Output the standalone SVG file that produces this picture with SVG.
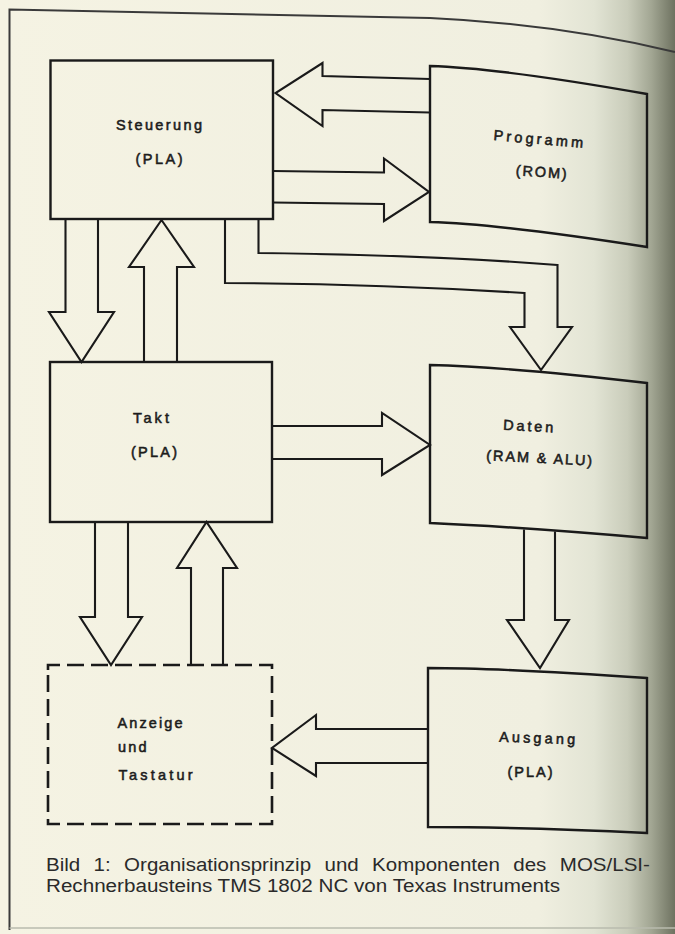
<svg xmlns="http://www.w3.org/2000/svg" width="675" height="934" viewBox="0 0 675 934">
<defs>
<linearGradient id="paper" x1="0" y1="0" x2="675" y2="0" gradientUnits="userSpaceOnUse">
<stop offset="0" stop-color="#f5f3e3"/>
<stop offset="0.8" stop-color="#f0efe0"/>
<stop offset="0.88" stop-color="#e2e4d4"/>
<stop offset="0.93" stop-color="#c9ccba"/>
<stop offset="0.965" stop-color="#a2a693"/>
<stop offset="1" stop-color="#6e7260"/>
</linearGradient>
<style>
.box{fill:none;stroke:#1a1a1a;stroke-width:2.4;stroke-linejoin:miter}
.dash{fill:none;stroke:#1a1a1a;stroke-width:2.6;stroke-dasharray:17 7}
.arr{fill:none;stroke:#1a1a1a;stroke-width:2.1;stroke-linejoin:miter}
.lbl{font-family:"Liberation Sans","DejaVu Sans",sans-serif;font-size:14.5px;fill:#1c1c1c;stroke:#1c1c1c;stroke-width:0.55px}
.cap{font-family:"Liberation Sans",Arial,sans-serif;font-size:18px;fill:#2a2a2a}
.frame{fill:none;stroke:#3a3a3a;stroke-width:2}
</style>
</defs>
<rect width="675" height="934" fill="url(#paper)"/>
<g id="frame">
<path class="frame" d="M9.5,930 V9.5 L430,18 Q560,24 675,52"/>
<path d="M9.5,928 H675" fill="none" stroke="#b9bbae" stroke-width="1.5"/>
</g>
<g id="connectors">
<path class="arr" d="M430,79 L322.5,76 V63 L275.5,93 L322.5,126 V110 L430,112.5"/>
<path class="arr" d="M273,171 L384,172.5 V158.5 L429,192 L384,221 V204 L273,202.5"/>
<path class="arr" d="M258.5,219 V253 Q430,255 557.5,265 V327 H572 L541,370 L510,327 H524.5 V293 Q380,284 225,283 V219"/>
<path class="arr" d="M65.5,219 V312 H49 L81.5,362 L114,312 H98 V219"/>
<path class="arr" d="M144,362 V267 H129 L161.5,220 L194,267 H177 V362"/>
<path class="arr" d="M272,426 H382 V413 L430,445 L382,475 V459 H272"/>
<path class="arr" d="M95,522 V617 H80 L111,665 L142,617 H128 V522"/>
<path class="arr" d="M191,665 V568 H177 L206.5,522 L237,568 H223 V665"/>
<path class="arr" d="M524,529.5 V620 H507 L540,668 L569,620 H555 V531.5"/>
<path class="arr" d="M428,729 H316 V715 L272,748 L316,776 V763 H428"/>
</g>
<g id="steuerung">
<rect class="box" x="50.5" y="60.5" width="222.5" height="158.5"/>
<text class="lbl" x="159" y="129.5" text-anchor="middle" textLength="86" lengthAdjust="spacing">Steuerung</text>
<text class="lbl" x="159" y="163.5" text-anchor="middle" textLength="47" lengthAdjust="spacing">(PLA)</text>
</g>
<g id="programm">
<path class="box" d="M430,66 Q500,68 647,94 V247 Q500,224 430,222 Z"/>
<text class="lbl" x="538" y="144" text-anchor="middle" textLength="90" lengthAdjust="spacing" transform="rotate(5 538 144)">Programm</text>
<text class="lbl" x="541" y="177" text-anchor="middle" textLength="51" lengthAdjust="spacing" transform="rotate(4 541 177)">(ROM)</text>
</g>
<g id="takt">
<rect class="box" x="50" y="362" width="222" height="160"/>
<text class="lbl" x="151" y="423" text-anchor="middle" textLength="36" lengthAdjust="spacing">Takt</text>
<text class="lbl" x="154" y="457" text-anchor="middle" textLength="46" lengthAdjust="spacing">(PLA)</text>
</g>
<g id="daten">
<path class="box" d="M430,365 Q510,367 647,383 V538 Q520,527 430,523 Z"/>
<text class="lbl" x="528" y="431" text-anchor="middle" textLength="50" lengthAdjust="spacing" transform="rotate(3 528 431)">Daten</text>
<text class="lbl" x="539" y="463" text-anchor="middle" textLength="106" lengthAdjust="spacing" transform="rotate(3 539 463)">(RAM &amp; ALU)</text>
</g>
<g id="anzeige">
<path class="dash" d="M48,670 V665 H272 V824 H48 Z"/>
<text class="lbl" x="117.5" y="727.5" textLength="65" lengthAdjust="spacing">Anzeige</text>
<text class="lbl" x="118" y="751.5" textLength="28.5" lengthAdjust="spacing">und</text>
<text class="lbl" x="118.5" y="779.5" textLength="74" lengthAdjust="spacing">Tastatur</text>
</g>
<g id="ausgang">
<path class="box" d="M428,668 Q500,668 647,678 V833 Q520,827 428,827 Z"/>
<text class="lbl" x="537" y="743" text-anchor="middle" textLength="76" lengthAdjust="spacing" transform="rotate(2 537 743)">Ausgang</text>
<text class="lbl" x="530" y="777" text-anchor="middle" textLength="45" lengthAdjust="spacing">(PLA)</text>
</g>
<g id="caption">
<text class="cap" x="46" y="870.5" textLength="34.2" lengthAdjust="spacingAndGlyphs">Bild</text>
<text class="cap" x="93.6" y="870.5" textLength="17.1" lengthAdjust="spacingAndGlyphs">1:</text>
<text class="cap" x="124.1" y="870.5" textLength="187" lengthAdjust="spacingAndGlyphs">Organisationsprinzip</text>
<text class="cap" x="324.5" y="870.5" textLength="34.2" lengthAdjust="spacingAndGlyphs">und</text>
<text class="cap" x="372.1" y="870.5" textLength="127.8" lengthAdjust="spacingAndGlyphs">Komponenten</text>
<text class="cap" x="513.3" y="870.5" textLength="33.1" lengthAdjust="spacingAndGlyphs">des</text>
<text class="cap" x="559.8" y="870.5" textLength="90.1" lengthAdjust="spacingAndGlyphs">MOS/LSI-</text>
<text class="cap" x="46" y="892" textLength="514" lengthAdjust="spacingAndGlyphs">Rechnerbausteins TMS 1802 NC von Texas Instruments</text>
</g>
</svg>
